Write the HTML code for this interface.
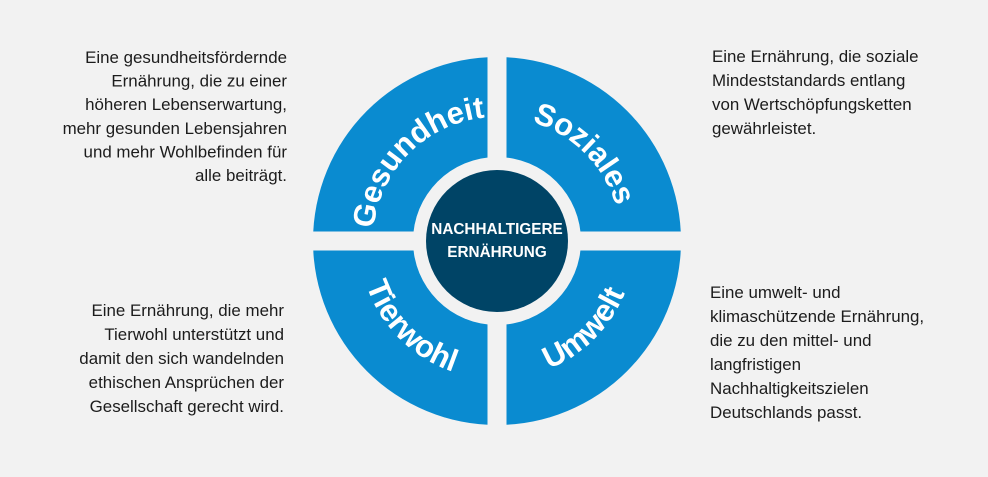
<!DOCTYPE html>
<html><head><meta charset="utf-8"><style>
html,body{margin:0;padding:0;background:#f2f2f2;}
svg{display:block;}
.t{font-family:"Liberation Sans",sans-serif;font-size:16.9px;fill:#1c1c1c;}
.q{font-family:"Liberation Sans",sans-serif;font-size:31px;font-weight:bold;fill:#fff;}
.c{font-family:"Liberation Sans",sans-serif;font-size:15.3px;font-weight:bold;fill:#fff;}
</style></head><body>
<svg width="988" height="477" viewBox="0 0 988 477" xmlns="http://www.w3.org/2000/svg">
<rect width="988" height="477" fill="#f2f2f2"/>
<defs>
<path id="pG" d="M373,241 A124,124 0 0 1 497,117"/>
<path id="pS" d="M497,117 A124,124 0 0 1 621,241"/>
<path id="pT" d="M359,241 A138,138 0 0 0 497,379"/>
<path id="pU" d="M497,379 A138,138 0 0 0 635,241"/>
</defs>
<circle cx="497" cy="241" r="184" fill="#0a8bd0"/>
<rect x="487.5" y="50" width="19" height="385" fill="#f2f2f2"/>
<rect x="305" y="231.5" width="385" height="19" fill="#f2f2f2"/>
<circle cx="497" cy="241" r="84" fill="#f2f2f2"/>
<circle cx="497" cy="241" r="71" fill="#004466"/>
<text class="q"><textPath href="#pG" startOffset="50%" text-anchor="middle">Gesundheit</textPath></text>
<text class="q"><textPath href="#pS" startOffset="50%" text-anchor="middle">Soziales</textPath></text>
<text class="q"><textPath href="#pT" startOffset="50%" text-anchor="middle">Tierwohl</textPath></text>
<text class="q"><textPath href="#pU" startOffset="50%" text-anchor="middle">Umwelt</textPath></text>
<text class="c" x="497" y="234" text-anchor="middle">NACHHALTIGERE</text>
<text class="c" x="497" y="257" text-anchor="middle">ERNÄHRUNG</text>
<g class="t" text-anchor="end">
<text x="287" y="63">Eine gesundheitsfördernde</text>
<text x="287" y="86.6">Ernährung, die zu einer</text>
<text x="287" y="110.2">höheren Lebenserwartung,</text>
<text x="287" y="133.8">mehr gesunden Lebensjahren</text>
<text x="287" y="157.4">und mehr Wohlbefinden für</text>
<text x="287" y="181">alle beiträgt.</text>
<text x="284" y="316">Eine Ernährung, die mehr</text>
<text x="284" y="340">Tierwohl unterstützt und</text>
<text x="284" y="364">damit den sich wandelnden</text>
<text x="284" y="388">ethischen Ansprüchen der</text>
<text x="284" y="412">Gesellschaft gerecht wird.</text>
</g>
<g class="t">
<text x="712" y="62">Eine Ernährung, die soziale</text>
<text x="712" y="86">Mindeststandards entlang</text>
<text x="712" y="110">von Wertschöpfungsketten</text>
<text x="712" y="134">gewährleistet.</text>
<text x="710" y="298">Eine umwelt- und</text>
<text x="710" y="322">klimaschützende  Ernährung,</text>
<text x="710" y="346">die zu den mittel- und</text>
<text x="710" y="370">langfristigen</text>
<text x="710" y="394">Nachhaltigkeitszielen</text>
<text x="710" y="418">Deutschlands passt.</text>
</g>
</svg>
</body></html>
